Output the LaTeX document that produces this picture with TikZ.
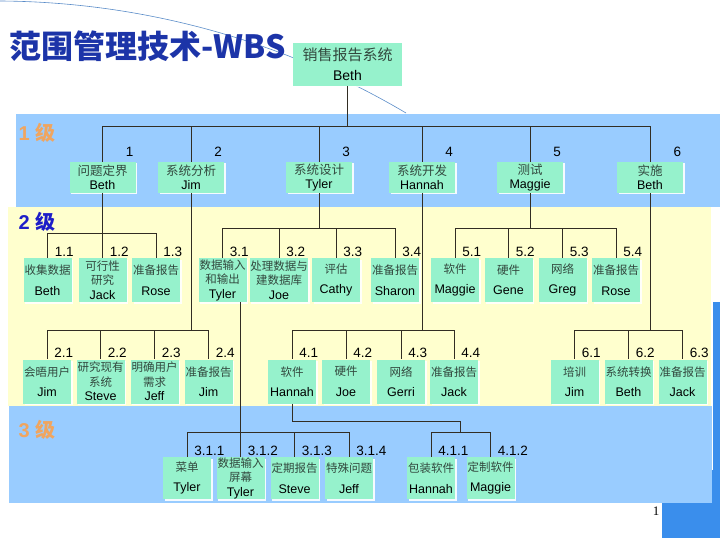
\documentclass[tikz,border=0pt]{standalone}
\usepackage{fontspec}
\setmainfont{Liberation Sans}
\newfontfamily\cjk{Noto Sans CJK SC}
\newfontfamily\pagefont{Liberation Serif}
\usetikzlibrary{shadows}
\definecolor{bandblue}{RGB}{153,204,255}
\definecolor{bandyellow}{RGB}{255,255,206}
\definecolor{boxgreen}{RGB}{150,242,204}
\definecolor{titleblue}{RGB}{28,52,168}
\definecolor{stripblue}{RGB}{58,142,236}
\definecolor{arcblue}{RGB}{90,140,200}
\definecolor{levelorange}{RGB}{240,165,95}
\definecolor{levelblue}{RGB}{30,30,200}
\definecolor{cjkgray}{RGB}{50,72,62}
\definecolor{linecol}{RGB}{50,45,35}
\newcommand{\zh}[2][11.5]{{\cjk\color{cjkgray}\fontsize{#1}{15}\selectfont #2}}
\begin{document}
\begin{tikzpicture}[x=1pt,y=-1pt,line width=0.8pt,
box node/.style={fill=boxgreen,inner xsep=0.5pt,inner ysep=0pt,align=center,font=\fontsize{12.5}{14.5}\selectfont,drop shadow={shadow xshift=1.5pt,shadow yshift=-1.5pt,fill=white,opacity=0.9}},
top node/.style={box node,minimum width=109pt,minimum height=43pt,font=\fontsize{14}{20}\selectfont},
main node/.style={box node,minimum width=66pt,minimum height=31pt},
sub node/.style={box node,minimum width=48pt,minimum height=44pt},
leaf node/.style={box node,minimum width=48pt,minimum height=42pt},
num/.style={anchor=south east,inner xsep=2pt,inner ysep=1.5pt,font=\fontsize{13.5}{14}\selectfont},
subnum/.style={num,anchor=south west,xshift=5pt,inner ysep=1pt},
tree/.style={draw=linecol,line width=0.8pt}]
\useasboundingbox (0,0) rectangle (720,540);
\fill[bandblue] (16,114) rectangle (720,207);
\fill[bandyellow] (8,207) rectangle (711,406);
\fill[stripblue] (713,302) rectangle (720,538);
\fill[stripblue] (662,470) rectangle (720,538);
\fill[bandblue] (9,406) rectangle (712,503);
\draw[arcblue,line width=0.6pt] (0,1) .. controls (160,2) and (300,50) .. (406,113);

\node[anchor=west,text=titleblue,font=\cjk\bfseries\fontsize{32}{34}\selectfont] (title) at (6,46) {范围管理技术-WBS};
\node[anchor=west,text=levelorange,font=\bfseries\fontsize{20}{22}\selectfont] (lv1) at (15,133) {1 {\cjk 级}};
\node[anchor=west,text=levelblue,font=\bfseries\fontsize{20}{22}\selectfont] (lv2) at (15,222) {2 {\cjk 级}};
\node[anchor=west,text=levelorange,font=\bfseries\fontsize{20}{22}\selectfont] (lv3) at (15,430) {3 {\cjk 级}};
\node[font=\pagefont\fontsize{13}{14}\selectfont] (pg) at (656,511) {1};

\node[top node] (v0) at (347.5,64.5) {\zh[15]{销售报告系统}\\Beth};

\node[main node,label={[num,yshift=3pt]north east:1}] (v1) at (102.5,177.5) {\zh[12.5]{问题定界}\\Beth};
\node[main node,label={[num,yshift=3pt]north east:2}] (v2) at (191,177.5) {\zh[12.5]{系统分析}\\Jim};
\node[main node,label={[num,yshift=3pt]north east:3}] (v3) at (319,177.5) {\zh[12.5]{系统设计}\\Tyler};
\node[main node,label={[num,yshift=3pt]north east:4}] (v4) at (422,177.5) {\zh[12.5]{系统开发}\\Hannah};
\node[main node,label={[num,yshift=3pt]north east:5}] (v5) at (530,177.5) {\zh[12.5]{测试}\\Maggie};
\node[main node,label={[num,yshift=3pt]north east:6}] (v6) at (650,177.5) {\zh[12.5]{实施}\\Beth};

\node[sub node,label={[subnum]north:1.1}] (v11) at (47.5,280) {\zh{收集数据}\\[6pt]Beth};
\node[sub node,label={[subnum]north:1.2}] (v12) at (102.5,280) {\zh{可行性}\\\zh{研究}\\Jack};
\node[sub node,label={[subnum]north:1.3}] (v13) at (156,280) {\zh{准备报告}\\[6pt]Rose};
\node[sub node,label={[subnum]north:3.1}] (v31) at (222.5,280) {\zh{数据输入}\\\zh{和输出}\\Tyler};
\node[sub node,label={[subnum]north:3.2}] (v32) at (279,280) {\zh{处理数据与}\\\zh{建数据库}\\Joe};
\node[sub node,label={[subnum]north:3.3}] (v33) at (336,280) {\zh{评估}\\[6pt]Cathy};
\node[sub node,label={[subnum]north:3.4}] (v34) at (395,280) {\zh{准备报告}\\[6pt]Sharon};
\node[sub node,label={[subnum]north:5.1}] (v51) at (455,280) {\zh{软件}\\[6pt]Maggie};
\node[sub node,label={[subnum]north:5.2}] (v52) at (508.5,280) {\zh{硬件}\\[6pt]Gene};
\node[sub node,label={[subnum]north:5.3}] (v53) at (562.5,280) {\zh{网络}\\[6pt]Greg};
\node[sub node,label={[subnum]north:5.4}] (v54) at (616,280) {\zh{准备报告}\\[6pt]Rose};

\node[sub node,label={[subnum]north:2.1}] (v21) at (47,381.5) {\zh{会晤用户}\\[6pt]Jim};
\node[sub node,label={[subnum]north:2.2}] (v22) at (100.5,381.5) {\zh{研究现有}\\\zh{系统}\\Steve};
\node[sub node,label={[subnum]north:2.3}] (v23) at (154.5,381.5) {\zh{明确用户}\\\zh{需求}\\Jeff};
\node[sub node,label={[subnum]north:2.4}] (v24) at (208.5,381.5) {\zh{准备报告}\\[6pt]Jim};
\node[sub node,label={[subnum]north:4.1}] (v41) at (292,381.5) {\zh{软件}\\[6pt]Hannah};
\node[sub node,label={[subnum]north:4.2}] (v42) at (346,381.5) {\zh{硬件}\\[6pt]Joe};
\node[sub node,label={[subnum]north:4.3}] (v43) at (401,381.5) {\zh{网络}\\[6pt]Gerri};
\node[sub node,label={[subnum]north:4.4}] (v44) at (454,381.5) {\zh{准备报告}\\[6pt]Jack};
\node[sub node,label={[subnum]north:6.1}] (v61) at (574.5,381.5) {\zh{培训}\\[6pt]Jim};
\node[sub node,label={[subnum]north:6.2}] (v62) at (628.5,381.5) {\zh{系统转换}\\[6pt]Beth};
\node[sub node,label={[subnum]north:6.3}] (v63) at (682.5,381.5) {\zh{准备报告}\\[6pt]Jack};

\node[leaf node,label={[subnum]north:3.1.1}] (v311) at (187,478) {\zh{菜单}\\[6pt]Tyler};
\node[leaf node,label={[subnum]north:3.1.2}] (v312) at (240.5,478) {\zh{数据输入}\\\zh{屏幕}\\Tyler};
\node[leaf node,label={[subnum]north:3.1.3}] (v313) at (294.5,478) {\zh{定期报告}\\[6pt]Steve};
\node[leaf node,label={[subnum]north:3.1.4}] (v314) at (349,478) {\zh{特殊问题}\\[6pt]Jeff};
\node[leaf node,label={[subnum]north:4.1.1}] (v411) at (431,478) {\zh{包装软件}\\[6pt]Hannah};
\node[leaf node,label={[subnum]north:4.1.2}] (v412) at (490.5,478) {\zh{定制软件}\\[6pt]Maggie};

\coordinate (b0) at (347.5,126);
\draw[tree] (v0.south) |- (b0) -| (v1.north);
\draw[tree] (b0) -| (v2.north);
\draw[tree] (b0) -| (v3.north);
\draw[tree] (b0) -| (v4.north);
\draw[tree] (b0) -| (v5.north);
\draw[tree] (b0) -| (v6.north);

\coordinate (b1) at (102.5,233);
\draw[tree] (v1.south) |- (b1) -| (v11.north);
\draw[tree] (b1) -- (v12.north);
\draw[tree] (b1) -| (v13.north);

\coordinate (b3) at (319,228);
\draw[tree] (v3.south) |- (b3) -| (v31.north);
\draw[tree] (b3) -| (v32.north);
\draw[tree] (b3) -| (v33.north);
\draw[tree] (b3) -| (v34.north);

\coordinate (b5) at (530,228);
\draw[tree] (v5.south) |- (b5) -| (v51.north);
\draw[tree] (b5) -| (v52.north);
\draw[tree] (b5) -| (v53.north);
\draw[tree] (b5) -| (v54.north);

\coordinate (b2) at (191,330);
\draw[tree] (v2.south) |- (b2) -| (v21.north);
\draw[tree] (b2) -| (v22.north);
\draw[tree] (b2) -| (v23.north);
\draw[tree] (b2) -| (v24.north);

\coordinate (b4) at (422,330);
\draw[tree] (v4.south) |- (b4) -| (v41.north);
\draw[tree] (b4) -| (v42.north);
\draw[tree] (b4) -| (v43.north);
\draw[tree] (b4) -| (v44.north);

\coordinate (b6) at (650,330);
\draw[tree] (v6.south) |- (b6) -| (v61.north);
\draw[tree] (b6) -| (v62.north);
\draw[tree] (b6) -| (v63.north);

\coordinate (b31) at (240.5,432);
\draw[tree] (v31.south -| b31) -- (b31) -| (v311.north);
\draw[tree] (b31) -- (v312.north);
\draw[tree] (b31) -| (v313.north);
\draw[tree] (b31) -| (v314.north);

\coordinate (k41) at (460.5,421);
\coordinate (b41) at (460.5,432);
\draw[tree] (v41.south) |- (k41) -- (b41) -| (v411.north);
\draw[tree] (b41) -| (v412.north);
\end{tikzpicture}
\end{document}
